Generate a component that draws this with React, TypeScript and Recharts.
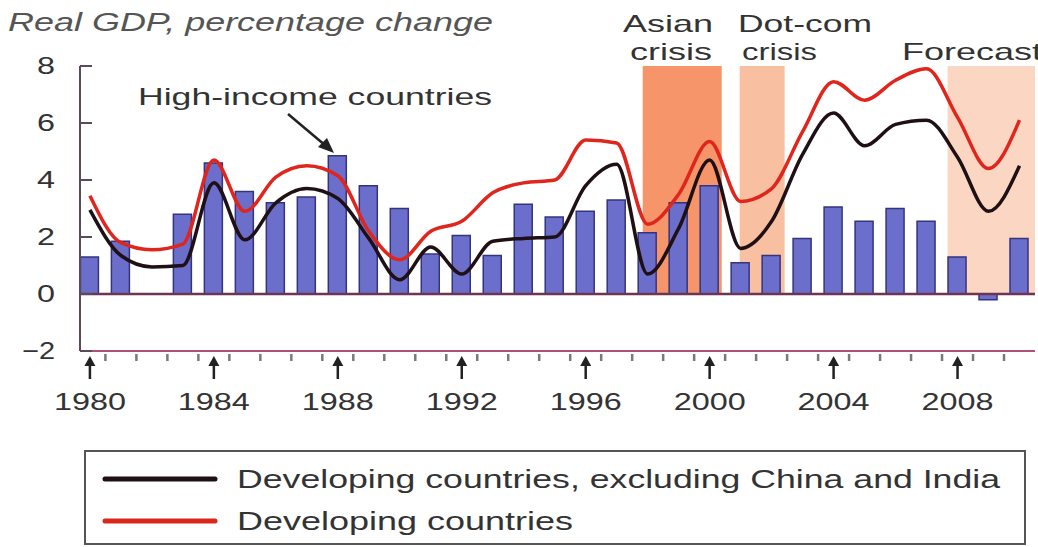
import React from 'react';
import { ComposedChart, Bar, Line, XAxis, YAxis, ReferenceArea, ReferenceLine } from 'recharts';

const years = [
  1980, 1981, 1982, 1983, 1984, 1985, 1986, 1987, 1988, 1989,
  1990, 1991, 1992, 1993, 1994, 1995, 1996, 1997, 1998, 1999,
  2000, 2001, 2002, 2003, 2004, 2005, 2006, 2007, 2008, 2009, 2010,
];

// high-income countries (bars)
const highIncome = [
  1.3, 1.85, 0, 2.8, 4.6, 3.6, 3.2, 3.4, 4.85, 3.8,
  3.0, 1.4, 2.05, 1.35, 3.15, 2.7, 2.9, 3.3, 2.15, 3.2,
  3.8, 1.1, 1.35, 1.95, 3.05, 2.55, 3.0, 2.55, 1.3, -0.2, 1.95,
];

// developing countries, excluding China and India (black line)
const devExChinaIndia = [
  2.95, 1.35, 0.95, 1.0, 3.9, 1.9, 3.2, 3.7, 3.35, 1.95,
  0.5, 1.65, 0.7, 1.85, 1.95, 2.0, 3.8, 4.55, 0.7, 2.3,
  4.7, 1.6, 2.55, 4.9, 6.35, 5.2, 5.95, 6.1, 4.8, 2.9, 4.5,
];

// developing countries (red line)
const developing = [
  3.45, 1.8, 1.55, 1.75, 4.7, 2.9, 4.1, 4.5, 4.15, 2.2,
  1.2, 2.2, 2.55, 3.55, 3.9, 4.0, 5.4, 5.3, 2.45, 3.5,
  5.35, 3.25, 3.7, 5.7, 7.45, 6.8, 7.5, 7.9, 6.2, 4.4, 6.1,
];

const yTicks = [-2, 0, 2, 4, 6, 8];
const labelYears = [1980, 1984, 1988, 1992, 1996, 2000, 2004, 2008];
const yearBoundaries = [
  1980.5, 1981.5, 1982.5, 1983.5, 1984.5, 1985.5, 1986.5, 1987.5, 1988.5, 1989.5,
  1990.5, 1991.5, 1992.5, 1993.5, 1994.5, 1995.5, 1996.5, 1997.5, 1998.5, 1999.5,
  2000.5, 2001.5, 2002.5, 2003.5, 2004.5, 2005.5, 2006.5, 2007.5, 2008.5, 2009.5,
];

// shaded periods (in years)
const asianCrisis = [1997.84, 2000.39];
const dotComCrisis = [2000.97, 2002.42];
const forecast = [2007.68, 2010.5];

const data = years.map((year, i) => ({
  year,
  high: highIncome[i],
  exCI: devExChinaIndia[i],
  dev: developing[i],
}));

const FONT = '"Liberation Sans", Arial, sans-serif';
const TEXT = '#333';

const XTick = (props: any) => {
  const { x, y, payload } = props;
  const v = payload.value;
  if (labelYears.includes(v)) {
    return (
      <g>
        <line x1={x} x2={x} y1={y + 12} y2={y + 28} stroke="#222" strokeWidth={2.5} />
        <path d={`M ${x} ${y + 5} L ${x - 5.5} ${y + 15} L ${x + 5.5} ${y + 15} Z`} fill="#222" />
        <text
          x={x}
          y={y + 59}
          textAnchor="middle"
          fontFamily={FONT}
          fontSize={24}
          fill={TEXT}
          textLength={72}
          lengthAdjust="spacingAndGlyphs"
        >
          {v}
        </text>
      </g>
    );
  }
  return <line x1={x} x2={x} y1={y + 3} y2={y + 10} stroke="#7a7a7a" strokeWidth={2.5} />;
};

const YTick = (props: any) => {
  const { x, y, payload } = props;
  const label = payload.value < 0 ? `\u2212${Math.abs(payload.value)}` : `${payload.value}`;
  return (
    <g>
      <line x1={x} x2={x + 12} y1={y} y2={y} stroke="#5a4a5a" strokeWidth={2} />
      <text
        x={x - 25}
        y={y + 8}
        textAnchor="end"
        fontFamily={FONT}
        fontSize={24}
        fill={TEXT}
        textLength={label.length > 1 ? 33 : 18}
        lengthAdjust="spacingAndGlyphs"
      >
        {label}
      </text>
    </g>
  );
};

const Overlay = () => (
  <svg
    width={1038}
    height={547}
    style={{ position: 'absolute', left: 0, top: 0, pointerEvents: 'none' }}
    fontFamily={FONT}
  >
    <text x={8} y={31} fontSize={25} fontStyle="italic" fill="#555" textLength={485} lengthAdjust="spacingAndGlyphs">
      Real GDP, percentage change
    </text>

    <text x={138} y={105} fontSize={24} fill={TEXT} textLength={354} lengthAdjust="spacingAndGlyphs">
      High-income countries
    </text>
    <line x1={288} y1={114} x2={326} y2={146} stroke="#222" strokeWidth={2.5} />
    <path d="M 334 153 L 318 147 L 327 138 Z" fill="#222" />

    <text x={623} y={32} fontSize={24} fill={TEXT} textLength={90} lengthAdjust="spacingAndGlyphs">Asian</text>
    <text x={630} y={60} fontSize={24} fill={TEXT} textLength={82} lengthAdjust="spacingAndGlyphs">crisis</text>
    <text x={738} y={32} fontSize={24} fill={TEXT} textLength={134} lengthAdjust="spacingAndGlyphs">Dot-com</text>
    <text x={742} y={60} fontSize={24} fill={TEXT} textLength={75} lengthAdjust="spacingAndGlyphs">crisis</text>
    <text x={902} y={60} fontSize={24} fill={TEXT} textLength={140} lengthAdjust="spacingAndGlyphs">Forecast</text>

    <rect x={85} y={451} width={940} height={93} fill="#fff" stroke="#555" strokeWidth={2} />
    <line x1={105} x2={215} y1={479} y2={479} stroke="#1e1014" strokeWidth={5} strokeLinecap="round" />
    <line x1={105} x2={215} y1={521} y2={521} stroke="#d8281c" strokeWidth={5} strokeLinecap="round" />
    <text x={237} y={488} fontSize={26} fill={TEXT} textLength={763} lengthAdjust="spacingAndGlyphs">
      Developing countries, excluding China and India
    </text>
    <text x={237} y={530} fontSize={26} fill={TEXT} textLength={336} lengthAdjust="spacingAndGlyphs">
      Developing countries
    </text>
  </svg>
);

export default function App() {
  return (
    <div style={{ position: 'absolute', left: 0, top: 0, width: 1038, height: 547, background: '#fff' }}>
      <ComposedChart
        width={1038}
        height={547}
        data={data}
        margin={{ top: 66, right: 3, left: 20, bottom: 136 }}
      >
        <ReferenceArea x1={asianCrisis[0]} x2={asianCrisis[1]} y1={0} y2={8} fill="#f6956a" fillOpacity={1} stroke="none" />
        <ReferenceArea x1={dotComCrisis[0]} x2={dotComCrisis[1]} y1={0} y2={8} fill="#f8bfa0" fillOpacity={1} stroke="none" />
        <ReferenceArea x1={forecast[0]} x2={forecast[1]} y1={0} y2={8} fill="#fbd7c3" fillOpacity={1} stroke="none" />
        <XAxis
          type="number"
          dataKey="year"
          domain={[1979.68, 2010.5]}
          allowDataOverflow
          ticks={[...yearBoundaries, ...labelYears]}
          interval={0}
          tickLine={false}
          tickSize={0}
          tickMargin={0}
          tick={<XTick />}
          axisLine={{ stroke: '#b0507a', strokeWidth: 2 }}
          height={60}
        />
        <YAxis
          type="number"
          domain={[-2, 8]}
          ticks={yTicks}
          interval={0}
          width={60}
          tickLine={false}
          tickSize={0}
          tickMargin={0}
          tick={<YTick />}
          axisLine={{ stroke: '#5a4a5a', strokeWidth: 2 }}
        />
        <Bar dataKey="high" barSize={18} fill="#6b6fcb" stroke="#33347d" strokeWidth={1.5} isAnimationActive={false} />
        <ReferenceLine y={0} stroke="#6e3454" strokeWidth={2.5} />
        <Line type="monotone" dataKey="exCI" stroke="#1e1014" strokeWidth={3.5} dot={false} isAnimationActive={false} />
        <Line type="monotone" dataKey="dev" stroke="#e0251c" strokeWidth={3.5} dot={false} isAnimationActive={false} />
      </ComposedChart>
      <Overlay />
    </div>
  );
}
